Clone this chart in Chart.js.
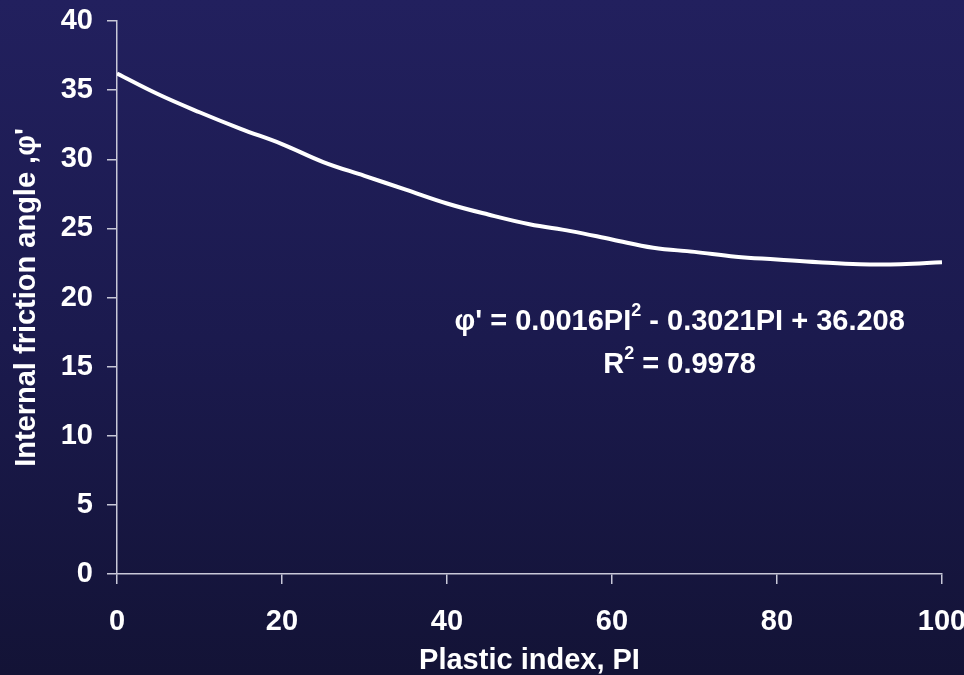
<!DOCTYPE html>
<html>
<head>
<meta charset="utf-8">
<script src="https://cdn.jsdelivr.net/npm/chart.js@4/dist/chart.umd.min.js"></script>
<style>
  html, body { margin: 0; padding: 0; }
  body {
    width: 964px; height: 675px; overflow: hidden;
    background: linear-gradient(to bottom, #22205e 0%, #1b1a4e 50%, #131336 100%);
  }
  canvas { display: block; }
</style>
</head>
<body>
<canvas id="frictionChart" width="964" height="675"></canvas>
<script>
// Plastic index vs internal friction angle
const plasticIndex = [0, 5, 10, 15, 20, 25, 30, 35, 40, 45, 50, 55, 60, 65, 70, 75, 80, 85, 90, 95, 100];
const frictionAngle = [36.2, 34.7, 33.4, 32.2, 31.1, 29.8, 28.8, 27.8, 26.8, 26.0, 25.3, 24.8, 24.2, 23.6, 23.3, 22.95, 22.75, 22.55, 22.4, 22.4, 22.55];

const xTicks = [0, 20, 40, 60, 80, 100];
const yTicks = [0, 5, 10, 15, 20, 25, 30, 35, 40];

const xTitle = "Plastic index, PI";
const yTitle = "Internal friction angle ,\u03c6'";

// equation text, pieces flagged true are superscripts
const equationLines = [
  [["\u03c6' = 0.0016PI", false], ["2", true], [" - 0.3021PI + 36.208", false]],
  [["R", false], ["2", true], [" = 0.9978", false]]
];

const FONT = "'Liberation Sans', Arial, sans-serif";
const axisColor = "#c8c8d8";

// Draws the trendline equation as text with small raised "2"
const equationLabel = {
  id: "equationLabel",
  afterDatasetsDraw(chart, args, opts) {
    const ctx = chart.ctx;
    const cx = chart.scales.x.getPixelForValue(opts.x);
    let cy = chart.scales.y.getPixelForValue(opts.y);
    const mainFont = "bold " + opts.size + "px " + FONT;
    const supFont = "bold " + opts.supSize + "px " + FONT;
    ctx.save();
    ctx.fillStyle = "#ffffff";
    ctx.textBaseline = "middle";
    ctx.textAlign = "left";
    opts.lines.forEach(parts => {
      let total = 0;
      parts.forEach(([txt, sup]) => {
        ctx.font = sup ? supFont : mainFont;
        total += ctx.measureText(txt).width;
      });
      let px = cx - total / 2;
      parts.forEach(([txt, sup]) => {
        ctx.font = sup ? supFont : mainFont;
        ctx.fillText(txt, px, sup ? cy - opts.supRaise : cy);
        px += ctx.measureText(txt).width;
      });
      cy += opts.lineGap;
    });
    ctx.restore();
  }
};

const tickFont = { family: FONT, size: 29, weight: "bold" };

const ctx = document.getElementById("frictionChart").getContext("2d");
new Chart(ctx, {
  type: "line",
  data: {
    datasets: [{
      data: plasticIndex.map((p, i) => ({ x: p, y: frictionAngle[i] })),
      borderColor: "#ffffff",
      borderWidth: 4,
      pointRadius: 0,
      tension: 0.4,
      fill: false
    }]
  },
  options: {
    responsive: false,
    animation: false,
    layout: { padding: { top: 21, right: 22, left: 0, bottom: 0 } },
    plugins: {
      legend: { display: false },
      tooltip: { enabled: false },
      equationLabel: { x: 68.2, y: 18.2, lines: equationLines, size: 29, supSize: 18, supRaise: 11, lineGap: 43 }
    },
    scales: {
      x: {
        type: "linear",
        min: 0, max: 100,
        afterFit: s => { s.height = 101; s.paddingRight = 22; s.paddingLeft = 0; },
        afterBuildTicks: s => { s.ticks = xTicks.map(v => ({ value: v })); },
        ticks: { color: "#ffffff", padding: 21, font: tickFont },
        grid: { drawOnChartArea: false, color: axisColor, tickLength: 10, lineWidth: 1.5 },
        border: { color: axisColor, width: 1.5 },
        title: { display: true, text: xTitle, color: "#ffffff", font: { family: FONT, size: 29, weight: "bold", lineHeight: 1.0 }, padding: { top: 0, bottom: 0 } }
      },
      y: {
        min: 0, max: 40,
        afterFit: s => { s.width = 117; s.paddingTop = 10; s.paddingBottom = 0; },
        afterBuildTicks: s => { s.ticks = yTicks.map(v => ({ value: v })); },
        ticks: { color: "#ffffff", padding: 14, font: tickFont },
        grid: { drawOnChartArea: false, color: axisColor, tickLength: 10, lineWidth: 1.5 },
        border: { color: axisColor, width: 1.5 },
        title: { display: true, text: yTitle, color: "#ffffff", font: { family: FONT, size: 29, weight: "bold" }, padding: { top: 10, bottom: 0 } }
      }
    }
  },
  plugins: [equationLabel]
});
</script>
</body>
</html>
